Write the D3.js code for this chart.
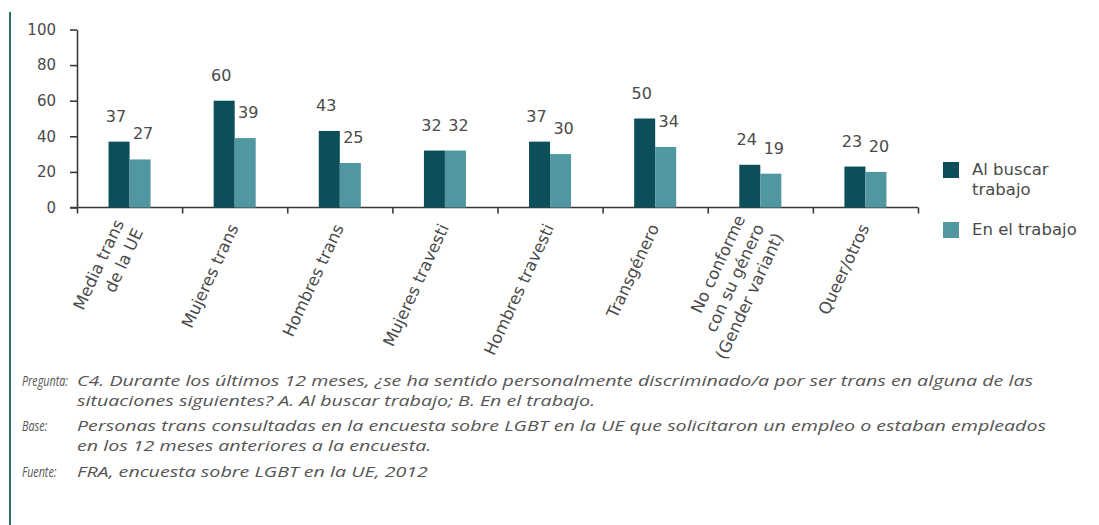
<!DOCTYPE html>
<html><head><meta charset="utf-8">
<script src="https://cdn.jsdelivr.net/npm/d3@7"></script>
<style>body{margin:0;background:#fff}svg{display:block}</style>
</head><body>
<svg id="chart" width="1099" height="525"></svg>
<script>
// ---- data ----
const categories = [
  ["Media trans", "de la UE"],
  ["Mujeres trans"],
  ["Hombres trans"],
  ["Mujeres travesti"],
  ["Hombres travesti"],
  ["Transgénero"],
  ["No conforme", "con su género", "(Gender variant)"],
  ["Queer/otros"]
];
const seriesNames = ["Al buscar trabajo", "En el trabajo"];
const buscarValues = [37, 60, 43, 32, 37, 50, 24, 23];
const trabajoValues = [27, 39, 25, 32, 30, 34, 19, 20];
const yTicks = [0, 20, 40, 60, 80, 100];
const legendLabels = [["Al buscar", "trabajo"], ["En el trabajo"]];
const noteLabels = ["Pregunta:", "Base:", "Fuente:"];
const noteTexts = [
  ["C4. Durante los últimos 12 meses, ¿se ha sentido personalmente discriminado/a por ser trans en alguna de las",
   "situaciones siguientes? A. Al buscar trabajo; B. En el trabajo."],
  ["Personas trans consultadas en la encuesta sobre LGBT en la UE que solicitaron un empleo o estaban empleados",
   "en los 12 meses anteriores a la encuesta."],
  ["FRA, encuesta sobre LGBT en la UE, 2012"]
];

(function () {
// ---- style ----
const colors = ["#0c4f5b", "#5097a1"];
const axisColor = "#3a3a3a";
const textColor = "#4a4a4a";
const font = "'DejaVu Sans', sans-serif";

const svg = d3.select("#chart");
const mLeft = 77, mRight = 918, mTop = 29.5, mBottom = 207.5;

// left page rule
svg.append("line").attr("x1", 10).attr("x2", 10).attr("y1", 12).attr("y2", 525)
  .attr("stroke", "#2e6e66").attr("stroke-width", 2);

const x0 = d3.scaleBand().domain(d3.range(categories.length)).range([mLeft, mRight]).paddingInner(0).paddingOuter(0);
const x1 = d3.scaleBand().domain([0, 1]).range([0, x0.bandwidth()]).paddingInner(0).paddingOuter(1.5);
const y = d3.scaleLinear().domain([0, 100]).range([mBottom, mTop]);
const xb = d3.scaleLinear().domain([0, categories.length]).range([mLeft, mRight]);

// y axis
const gy = svg.append("g").attr("transform", `translate(${mLeft},0)`)
  .call(d3.axisLeft(y).tickValues(yTicks).tickSize(7).tickPadding(14).tickSizeOuter(0));
gy.select(".domain").attr("stroke", axisColor).attr("stroke-width", 1.6);
gy.selectAll(".tick line").attr("stroke", axisColor).attr("stroke-width", 1.6);
gy.selectAll(".tick text").attr("fill", textColor).style("font-family", font).style("font-size", "15px");

// x axis (ticks at category boundaries)
const gx = svg.append("g").attr("transform", `translate(0,${mBottom})`)
  .call(d3.axisBottom(xb).tickValues(d3.range(categories.length + 1)).tickSize(6).tickFormat(() => "").tickSizeOuter(0));
gx.select(".domain").attr("stroke", axisColor).attr("stroke-width", 1.6)
  .attr("d", `M${mLeft - 7},0H${mRight}`);
gx.selectAll(".tick line").attr("stroke", axisColor).attr("stroke-width", 1.6);

// bars
const series = [buscarValues, trabajoValues];
series.forEach((vals, s) => {
  svg.append("g").selectAll("rect").data(vals).join("rect")
    .attr("x", (d, i) => x0(i) + x1(s))
    .attr("y", d => y(d))
    .attr("width", x1.bandwidth())
    .attr("height", d => y(0) - y(d))
    .attr("fill", colors[s]);
  svg.append("g").selectAll("text").data(vals).join("text")
    .attr("x", (d, i) => x0(i) + x1(s) + x1.bandwidth() / 2 + (s === 0 ? -3 : 3))
    .attr("y", d => y(d) - 20)
    .attr("text-anchor", "middle")
    .attr("fill", textColor)
    .style("font-family", font).style("font-size", "16px")
    .text(d => d);
});

// category labels (rotated)
const lab = svg.append("g").selectAll("g").data(categories).join("g")
  .attr("transform", (d, i) => `translate(${x0(i) + x0.bandwidth() / 2 - 1},${225}) rotate(-65)`);
lab.each(function (lines) {
  const t = d3.select(this).append("text").attr("text-anchor", "end")
    .attr("fill", textColor).style("font-family", font).style("font-size", "16.5px");
  lines.forEach((ln, j) => {
    t.append("tspan").attr("x", 0).attr("y", (j - (lines.length - 1) / 2) * 21).attr("dy", "0.35em").text(ln);
  });
});

// legend
const lg = svg.append("g");
const legendY = [162, 222];
legendLabels.forEach((lines, s) => {
  lg.append("rect").attr("x", 943).attr("y", legendY[s]).attr("width", 16).attr("height", 16).attr("fill", colors[s]);
  const t = lg.append("text").attr("fill", textColor).style("font-family", font).style("font-size", "16.5px");
  lines.forEach((ln, j) => t.append("tspan").attr("x", 972).attr("y", legendY[s] + 13 + j * 20).text(ln));
});

// footnotes
const noteFont = "'Open Sans', sans-serif";
const noteRows = [[386, 406], [431, 451], [477]];
const ng = svg.append("g").attr("fill", "#555").style("font-family", noteFont)
  .style("font-size", "14.5px").style("font-style", "italic");
const noteLines = [];
const labelEls = [];
noteLabels.forEach((lbl, k) => {
  labelEls.push(ng.append("text").attr("data-y", noteRows[k][0]).text(lbl));
  noteTexts[k].forEach((ln, j) => {
    noteLines.push(ng.append("text").attr("x", 77).attr("y", noteRows[k][j]).text(ln));
  });
});
const firstW = noteLines[0].node().getComputedTextLength();
const factor = (1033 - 77) / firstW;
noteLines.forEach(t => {
  const w = t.node().getComputedTextLength();
  t.attr("textLength", w * factor).attr("lengthAdjust", "spacingAndGlyphs");
});
const labScale = 46 / labelEls[0].node().getComputedTextLength();
labelEls.forEach(t => {
  t.attr("transform", `translate(22,${t.attr("data-y")}) scale(${labScale},1)`);
});
})();
</script>
</body></html>
